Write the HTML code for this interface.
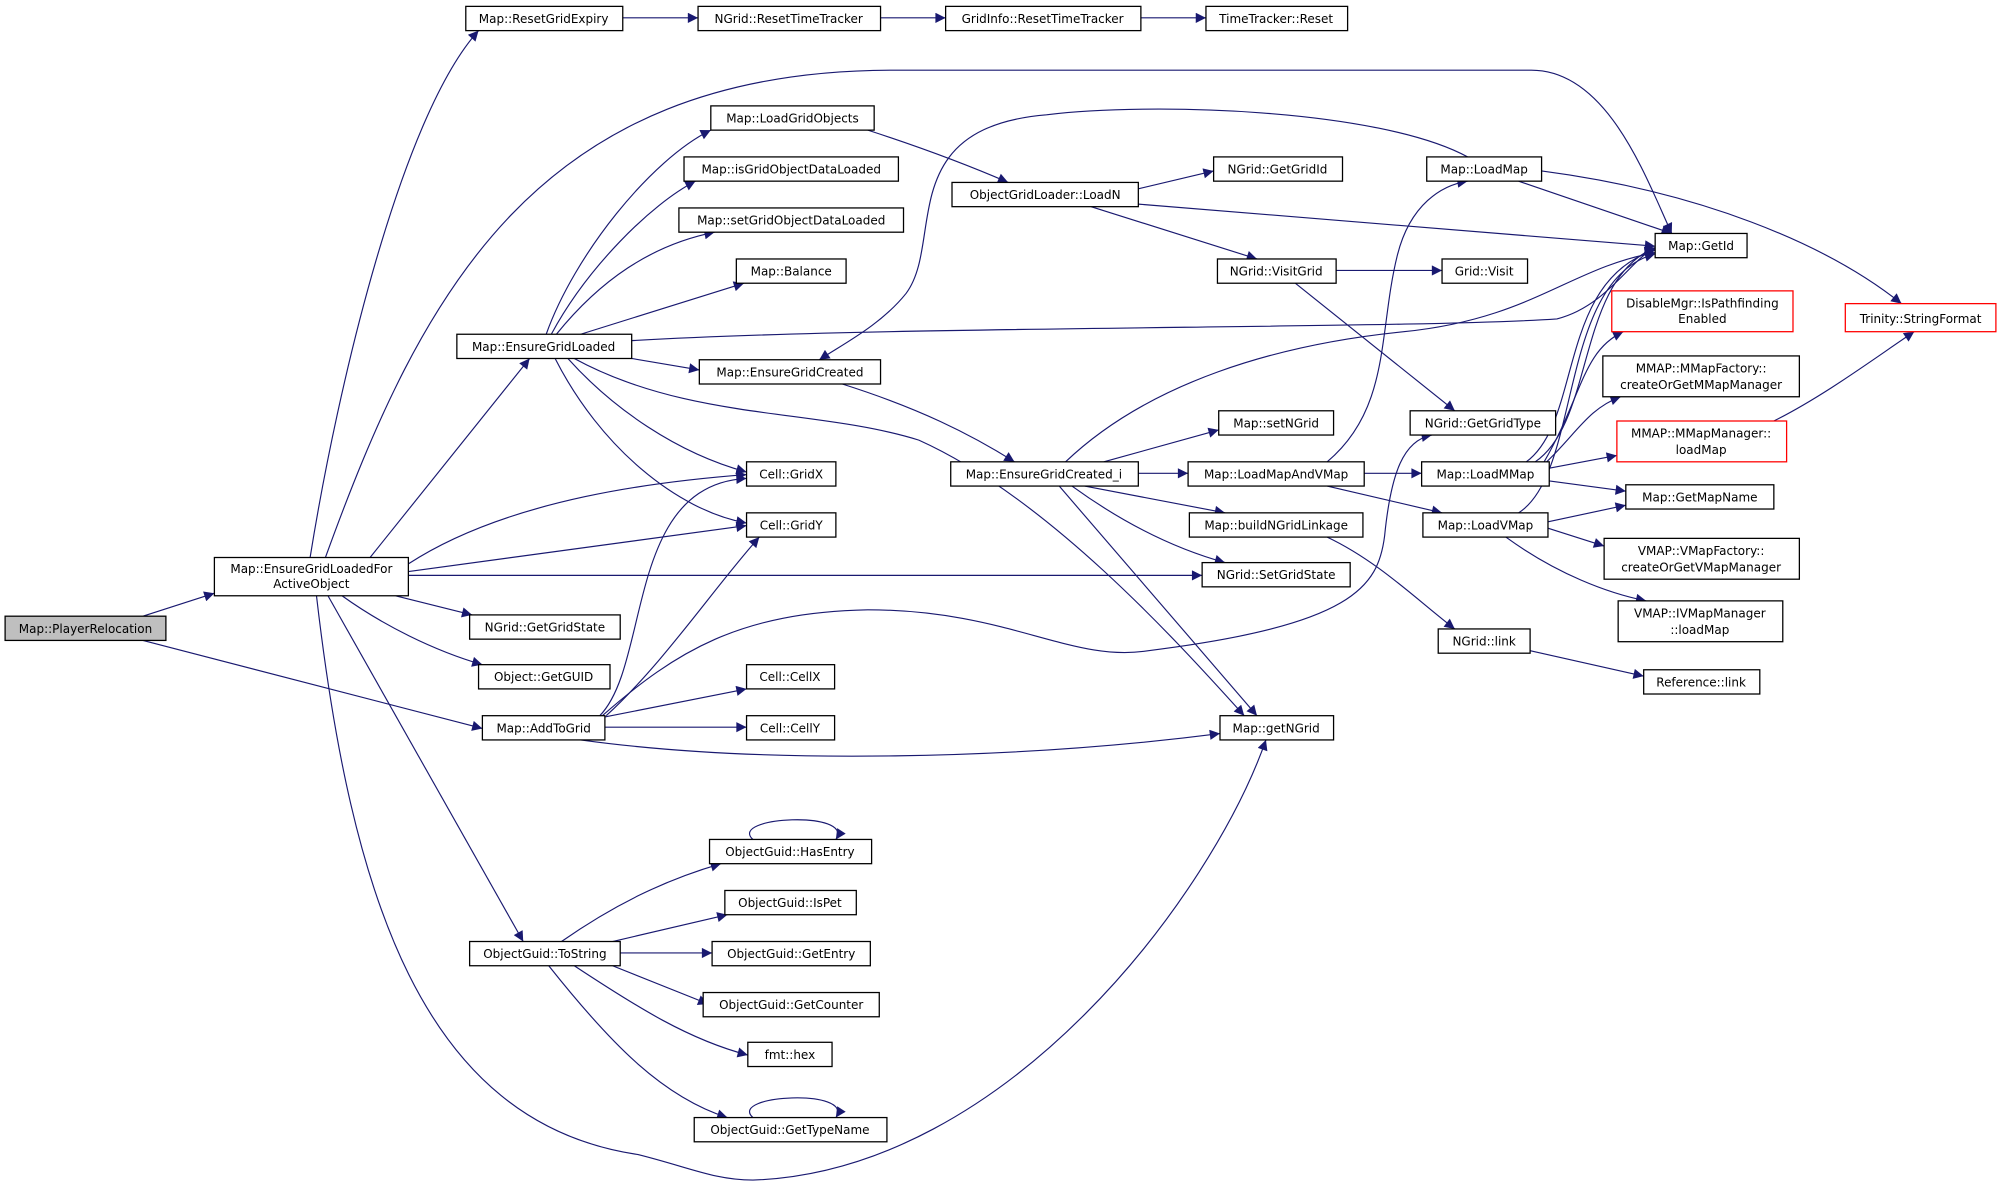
<!DOCTYPE html>
<html><head><meta charset="utf-8"><style>
html,body{margin:0;padding:0;background:#fff;}
svg{display:block;}
text{font-family:"DejaVu Sans","Liberation Sans",sans-serif;font-size:9.4px;fill:#000;text-anchor:middle;}
.n{fill:#fff;stroke:#000;stroke-width:1;}
.r{fill:#fff;stroke:#ff0000;stroke-width:1;}
.e{fill:none;stroke:#191970;stroke-width:0.9;}
</style></head><body>
<svg width="2001" height="1189" viewBox="0 0 1568 932" preserveAspectRatio="none" xmlns="http://www.w3.org/2000/svg">
<defs><marker id="a" viewBox="0 0 10 10" refX="10" refY="5" markerWidth="9" markerHeight="8" markerUnits="userSpaceOnUse" orient="auto"><path d="M0,0 L10,5 L0,10 z" fill="#191970"/></marker></defs>
<g class="e" marker-end="url(#a)">
<path d="M112,483 L168,465"/>
<path d="M112,502 L378,571"/>
<path d="M243,437 C265,300 315,90 375,24"/>
<path d="M488,14 L547,14"/>
<path d="M690,14 L741,14"/>
<path d="M894,14 L945,14"/>
<path d="M255,437 C330,230 420,55 700,55 L1200,55 C1260,55 1290,140 1310,183"/>
<path d="M290,437 L415,281"/>
<path d="M320,442 C400,390 520,377 585,372"/>
<path d="M320,448 L585,412"/>
<path d="M320,451 L942,451"/>
<path d="M310,467 L370,482"/>
<path d="M268,467 C300,490 340,510 378,521"/>
<path d="M257,467 L410,738"/>
<path d="M248,467 C275,700 330,880 500,905 C540,915 560,925 590,925 C790,918 950,700 992,580"/>
<path d="M428,262 C450,200 510,125 557,102"/>
<path d="M432,262 C460,210 510,160 545,142"/>
<path d="M436,262 C470,220 510,192 560,182"/>
<path d="M455,262 L583,222"/>
<path d="M495,267 C700,255 1100,258 1220,250 C1260,240 1280,200 1297,195"/>
<path d="M495,281 L548,290"/>
<path d="M445,281 C480,320 530,355 585,370"/>
<path d="M435,281 C470,350 530,400 585,410"/>
<path d="M450,281 C540,330 640,320 720,345 C820,390 920,500 975,561"/>
<path d="M680,102 C720,115 760,130 790,143"/>
<path d="M660,301 C720,320 760,340 795,362"/>
<path d="M1150,123 C1080,85 900,80 820,90 C700,100 740,190 710,230 C690,255 660,270 642,282"/>
<path d="M892,148 L951,134"/>
<path d="M892,160 L1297,193"/>
<path d="M855,162 L985,203"/>
<path d="M1047,212 L1130,212"/>
<path d="M1015,222 L1140,322"/>
<path d="M865,362 L955,337"/>
<path d="M892,371 L931,371"/>
<path d="M850,381 L960,402"/>
<path d="M840,381 C880,410 920,430 960,441"/>
<path d="M830,381 L985,561"/>
<path d="M835,362 C900,300 1000,270 1100,260 C1200,250 1230,210 1297,198"/>
<path d="M1040,362 C1090,320 1080,260 1095,200 C1105,160 1130,145 1150,142"/>
<path d="M1069,371 L1114,371"/>
<path d="M1040,381 L1130,402"/>
<path d="M1040,421 C1080,440 1110,470 1140,493"/>
<path d="M1190,142 L1310,183"/>
<path d="M1208,134 C1330,150 1430,190 1490,238"/>
<path d="M1196,362 C1240,330 1220,220 1297,196"/>
<path d="M1203,362 C1250,330 1235,220 1297,194"/>
<path d="M1210,362 C1240,310 1240,275 1272,260"/>
<path d="M1212,362 C1235,340 1245,320 1270,311"/>
<path d="M1214,367 L1267,357"/>
<path d="M1214,377 L1274,385"/>
<path d="M1190,402 C1240,370 1220,220 1297,199"/>
<path d="M1213,409 L1274,396"/>
<path d="M1213,414 L1257,428"/>
<path d="M1180,421 C1220,450 1260,465 1290,471"/>
<path d="M1199,510 L1288,530"/>
<path d="M1390,330 C1430,310 1470,280 1500,260"/>
<path d="M470,561 C510,520 490,380 585,375"/>
<path d="M475,561 C520,520 560,460 595,421"/>
<path d="M474,562 L585,540"/>
<path d="M474,570 L585,570"/>
<path d="M455,580 C600,600 800,595 956,575"/>
<path d="M472,561 C530,510 580,480 680,478 C790,478 840,520 900,510 C1060,490 1080,460 1085,420 C1090,370 1100,345 1122,341"/>
<path d="M440,738 C480,710 520,690 565,677"/>
<path d="M480,738 L570,717"/>
<path d="M486,747 L558,747"/>
<path d="M480,757 L555,787"/>
<path d="M450,757 C500,790 540,815 586,827"/>
<path d="M430,757 C480,820 520,860 570,876"/>
<path d="M590,658 C570,640 670,635 655,658"/>
<path d="M590,876 C570,858 670,853 655,876"/>
</g>
<rect x="4" y="483" width="126" height="19" fill="#bfbfbf" stroke="#000"/><text x="67" y="496">Map::PlayerRelocation</text>
<rect class="n" x="168" y="437" width="152" height="30"/><text x="244" y="449">Map::EnsureGridLoadedFor</text><text x="244" y="461">ActiveObject</text>
<rect class="n" x="365" y="5" width="123" height="19"/><text x="426" y="18">Map::ResetGridExpiry</text>
<rect class="n" x="547" y="5" width="143" height="19"/><text x="618" y="18">NGrid::ResetTimeTracker</text>
<rect class="n" x="741" y="5" width="153" height="19"/><text x="817" y="18">GridInfo::ResetTimeTracker</text>
<rect class="n" x="945" y="5" width="111" height="19"/><text x="1000" y="18">TimeTracker::Reset</text>
<rect class="n" x="557" y="83" width="128" height="19"/><text x="621" y="96">Map::LoadGridObjects</text>
<rect class="n" x="536" y="123" width="168" height="19"/><text x="620" y="136">Map::isGridObjectDataLoaded</text>
<rect class="n" x="532" y="163" width="176" height="19"/><text x="620" y="176">Map::setGridObjectDataLoaded</text>
<rect class="n" x="577" y="203" width="86" height="19"/><text x="620" y="216">Map::Balance</text>
<rect class="n" x="358" y="262" width="137" height="19"/><text x="426" y="275">Map::EnsureGridLoaded</text>
<rect class="n" x="548" y="282" width="142" height="19"/><text x="619" y="295">Map::EnsureGridCreated</text>
<rect class="n" x="585" y="362" width="70" height="19"/><text x="620" y="375">Cell::GridX</text>
<rect class="n" x="585" y="402" width="70" height="19"/><text x="620" y="415">Cell::GridY</text>
<rect class="n" x="368" y="482" width="118" height="19"/><text x="427" y="495">NGrid::GetGridState</text>
<rect class="n" x="375" y="521" width="103" height="19"/><text x="426" y="534">Object::GetGUID</text>
<rect class="n" x="378" y="561" width="96" height="19"/><text x="426" y="574">Map::AddToGrid</text>
<rect class="n" x="585" y="521" width="69" height="19"/><text x="619" y="534">Cell::CellX</text>
<rect class="n" x="585" y="561" width="69" height="19"/><text x="619" y="574">Cell::CellY</text>
<rect class="n" x="556" y="658" width="127" height="19"/><text x="619" y="671">ObjectGuid::HasEntry</text>
<rect class="n" x="568" y="698" width="103" height="19"/><text x="619" y="711">ObjectGuid::IsPet</text>
<rect class="n" x="368" y="738" width="118" height="19"/><text x="427" y="751">ObjectGuid::ToString</text>
<rect class="n" x="558" y="738" width="124" height="19"/><text x="620" y="751">ObjectGuid::GetEntry</text>
<rect class="n" x="551" y="778" width="138" height="19"/><text x="620" y="791">ObjectGuid::GetCounter</text>
<rect class="n" x="586" y="817" width="66" height="19"/><text x="619" y="830">fmt::hex</text>
<rect class="n" x="544" y="876" width="151" height="19"/><text x="619" y="889">ObjectGuid::GetTypeName</text>
<rect class="n" x="746" y="143" width="146" height="19"/><text x="819" y="156">ObjectGridLoader::LoadN</text>
<rect class="n" x="951" y="123" width="101" height="19"/><text x="1001" y="136">NGrid::GetGridId</text>
<rect class="n" x="954" y="203" width="93" height="19"/><text x="1000" y="216">NGrid::VisitGrid</text>
<rect class="n" x="745" y="362" width="147" height="19"/><text x="818" y="375">Map::EnsureGridCreated_i</text>
<rect class="n" x="955" y="322" width="90" height="19"/><text x="1000" y="335">Map::setNGrid</text>
<rect class="n" x="931" y="362" width="138" height="19"/><text x="1000" y="375">Map::LoadMapAndVMap</text>
<rect class="n" x="932" y="402" width="136" height="19"/><text x="1000" y="415">Map::buildNGridLinkage</text>
<rect class="n" x="942" y="441" width="116" height="19"/><text x="1000" y="454">NGrid::SetGridState</text>
<rect class="n" x="956" y="561" width="89" height="19"/><text x="1000" y="574">Map::getNGrid</text>
<rect class="n" x="1118" y="123" width="90" height="19"/><text x="1163" y="136">Map::LoadMap</text>
<rect class="n" x="1130" y="203" width="67" height="19"/><text x="1163" y="216">Grid::Visit</text>
<rect class="n" x="1105" y="322" width="114" height="19"/><text x="1162" y="335">NGrid::GetGridType</text>
<rect class="n" x="1114" y="362" width="100" height="19"/><text x="1164" y="375">Map::LoadMMap</text>
<rect class="n" x="1115" y="402" width="98" height="19"/><text x="1164" y="415">Map::LoadVMap</text>
<rect class="n" x="1127" y="493" width="72" height="19"/><text x="1163" y="506">NGrid::link</text>
<rect class="n" x="1297" y="183" width="72" height="19"/><text x="1333" y="196">Map::GetId</text>
<rect class="r" x="1263" y="228" width="142" height="32"/><text x="1334" y="241">DisableMgr::IsPathfinding</text><text x="1334" y="253">Enabled</text>
<rect class="n" x="1256" y="279" width="154" height="32"/><text x="1333" y="292">MMAP::MMapFactory::</text><text x="1333" y="305">createOrGetMMapManager</text>
<rect class="r" x="1267" y="330" width="133" height="32"/><text x="1333" y="343">MMAP::MMapManager::</text><text x="1333" y="356">loadMap</text>
<rect class="n" x="1274" y="380" width="116" height="19"/><text x="1332" y="393">Map::GetMapName</text>
<rect class="n" x="1257" y="422" width="153" height="32"/><text x="1333" y="435">VMAP::VMapFactory::</text><text x="1333" y="448">createOrGetVMapManager</text>
<rect class="n" x="1268" y="471" width="129" height="32"/><text x="1332" y="484">VMAP::IVMapManager</text><text x="1332" y="497">::loadMap</text>
<rect class="n" x="1288" y="525" width="91" height="19"/><text x="1333" y="538">Reference::link</text>
<rect class="r" x="1446" y="238" width="118" height="22"/><text x="1505" y="253">Trinity::StringFormat</text>
</svg>
</body></html>
